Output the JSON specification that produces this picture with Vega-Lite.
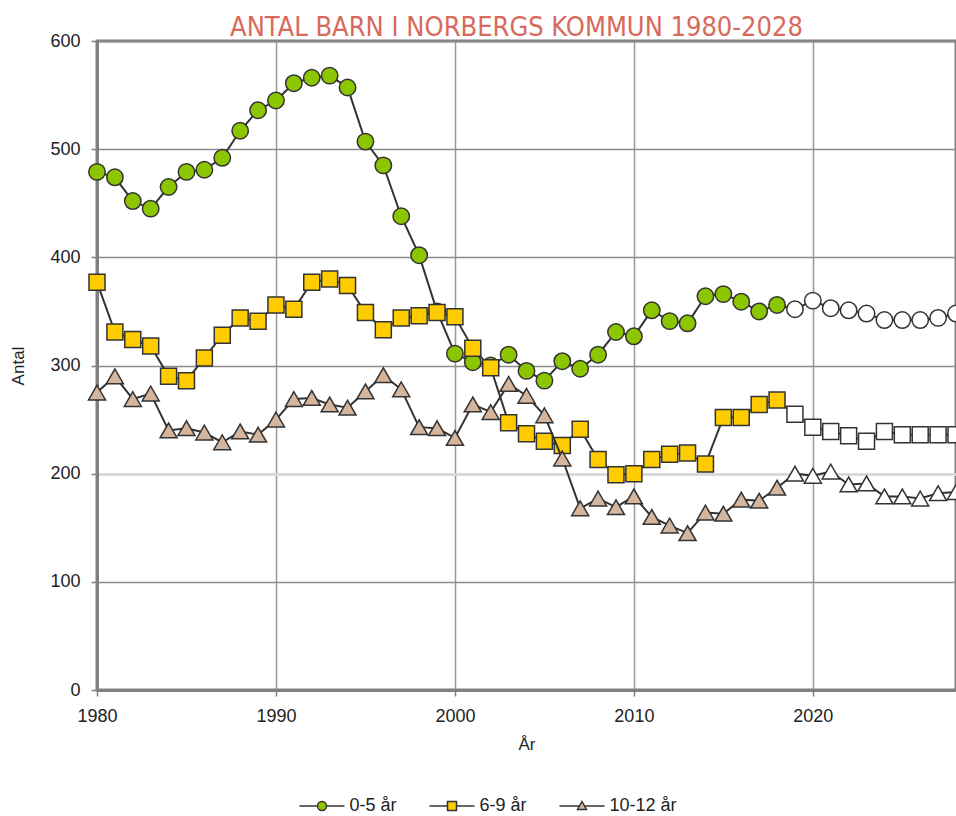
{
  "$schema": "https://vega.github.io/schema/vega-lite/v6.json",
  "width": 859,
  "height": 649,
  "autosize": {"type": "none"},
  "padding": {"left": 97, "top": 41, "right": 0, "bottom": 126},
  "background": "white",
  "title": {"text": "ANTAL BARN I NORBERGS KOMMUN 1980-2028", "font": "DejaVu Sans Condensed, Liberation Sans, sans-serif", "fontSize": 27, "fontWeight": "normal", "color": "#d86a5c", "offset": -10, "dx": -10},
  "config": {"view": {"stroke": "#808080", "strokeWidth": 3}, "font": "Liberation Sans"},
  "data": {"values": [
    {"year": 1980, "forecast": false, "0-5 år": 479, "6-9 år": 377, "10-12 år": 275},
    {"year": 1981, "forecast": false, "0-5 år": 474, "6-9 år": 331, "10-12 år": 290},
    {"year": 1982, "forecast": false, "0-5 år": 452, "6-9 år": 324, "10-12 år": 269},
    {"year": 1983, "forecast": false, "0-5 år": 445, "6-9 år": 318, "10-12 år": 274},
    {"year": 1984, "forecast": false, "0-5 år": 465, "6-9 år": 290, "10-12 år": 240},
    {"year": 1985, "forecast": false, "0-5 år": 479, "6-9 år": 286, "10-12 år": 242},
    {"year": 1986, "forecast": false, "0-5 år": 481, "6-9 år": 307, "10-12 år": 238},
    {"year": 1987, "forecast": false, "0-5 år": 492, "6-9 år": 328, "10-12 år": 229},
    {"year": 1988, "forecast": false, "0-5 år": 517, "6-9 år": 344, "10-12 år": 239},
    {"year": 1989, "forecast": false, "0-5 år": 536, "6-9 år": 341, "10-12 år": 236},
    {"year": 1990, "forecast": false, "0-5 år": 545, "6-9 år": 356, "10-12 år": 250},
    {"year": 1991, "forecast": false, "0-5 år": 561, "6-9 år": 352, "10-12 år": 269},
    {"year": 1992, "forecast": false, "0-5 år": 566, "6-9 år": 377, "10-12 år": 270},
    {"year": 1993, "forecast": false, "0-5 år": 568, "6-9 år": 380, "10-12 år": 264},
    {"year": 1994, "forecast": false, "0-5 år": 557, "6-9 år": 374, "10-12 år": 261},
    {"year": 1995, "forecast": false, "0-5 år": 507, "6-9 år": 349, "10-12 år": 276},
    {"year": 1996, "forecast": false, "0-5 år": 485, "6-9 år": 333, "10-12 år": 291},
    {"year": 1997, "forecast": false, "0-5 år": 438, "6-9 år": 344, "10-12 år": 278},
    {"year": 1998, "forecast": false, "0-5 år": 402, "6-9 år": 346, "10-12 år": 243},
    {"year": 1999, "forecast": false, "0-5 år": 350, "6-9 år": 349, "10-12 år": 242},
    {"year": 2000, "forecast": false, "0-5 år": 311, "6-9 år": 345, "10-12 år": 233},
    {"year": 2001, "forecast": false, "0-5 år": 303, "6-9 år": 316, "10-12 år": 264},
    {"year": 2002, "forecast": false, "0-5 år": 300, "6-9 år": 298, "10-12 år": 257},
    {"year": 2003, "forecast": false, "0-5 år": 310, "6-9 år": 247, "10-12 år": 283},
    {"year": 2004, "forecast": false, "0-5 år": 295, "6-9 år": 237, "10-12 år": 272},
    {"year": 2005, "forecast": false, "0-5 år": 286, "6-9 år": 230, "10-12 år": 254},
    {"year": 2006, "forecast": false, "0-5 år": 304, "6-9 år": 226, "10-12 år": 214},
    {"year": 2007, "forecast": false, "0-5 år": 297, "6-9 år": 241, "10-12 år": 168},
    {"year": 2008, "forecast": false, "0-5 år": 310, "6-9 år": 213, "10-12 år": 177},
    {"year": 2009, "forecast": false, "0-5 år": 331, "6-9 år": 199, "10-12 år": 169},
    {"year": 2010, "forecast": false, "0-5 år": 327, "6-9 år": 200, "10-12 år": 179},
    {"year": 2011, "forecast": false, "0-5 år": 351, "6-9 år": 213, "10-12 år": 160},
    {"year": 2012, "forecast": false, "0-5 år": 341, "6-9 år": 218, "10-12 år": 152},
    {"year": 2013, "forecast": false, "0-5 år": 339, "6-9 år": 219, "10-12 år": 145},
    {"year": 2014, "forecast": false, "0-5 år": 364, "6-9 år": 209, "10-12 år": 164},
    {"year": 2015, "forecast": false, "0-5 år": 366, "6-9 år": 252, "10-12 år": 163},
    {"year": 2016, "forecast": false, "0-5 år": 359, "6-9 år": 252, "10-12 år": 176},
    {"year": 2017, "forecast": false, "0-5 år": 350, "6-9 år": 264, "10-12 år": 175},
    {"year": 2018, "forecast": false, "0-5 år": 356, "6-9 år": 268, "10-12 år": 187},
    {"year": 2019, "forecast": true, "0-5 år": 352, "6-9 år": 255, "10-12 år": 200},
    {"year": 2020, "forecast": true, "0-5 år": 360, "6-9 år": 243, "10-12 år": 198},
    {"year": 2021, "forecast": true, "0-5 år": 353, "6-9 år": 239, "10-12 år": 202},
    {"year": 2022, "forecast": true, "0-5 år": 351, "6-9 år": 235, "10-12 år": 190},
    {"year": 2023, "forecast": true, "0-5 år": 348, "6-9 år": 230, "10-12 år": 191},
    {"year": 2024, "forecast": true, "0-5 år": 342, "6-9 år": 239, "10-12 år": 179},
    {"year": 2025, "forecast": true, "0-5 år": 342, "6-9 år": 236, "10-12 år": 179},
    {"year": 2026, "forecast": true, "0-5 år": 342, "6-9 år": 236, "10-12 år": 177},
    {"year": 2027, "forecast": true, "0-5 år": 344, "6-9 år": 236, "10-12 år": 182},
    {"year": 2028, "forecast": true, "0-5 år": 348, "6-9 år": 236, "10-12 år": 183}
  ]},
  "transform": [{"fold": ["0-5 år", "6-9 år", "10-12 år"], "as": ["series", "value"]}],
  "encoding": {
    "x": {"field": "year", "type": "quantitative",
      "scale": {"domain": [1980, 2028], "nice": false, "zero": false},
      "axis": {"values": [1980, 1990, 2000, 2010, 2020], "format": "d", "title": "År",
        "titleFontSize": 17, "titleFontWeight": "normal", "titleColor": "#222", "titlePadding": 11,
        "labelFontSize": 18, "labelColor": "#222", "labelPadding": 11, "labelFlush": false,
        "tickSize": 6, "tickColor": "#808080", "tickWidth": 1.5,
        "domainColor": "#808080", "domainWidth": 3,
        "gridColor": "#999999", "gridWidth": 1.5}},
    "y": {"field": "value", "type": "quantitative",
      "scale": {"domain": [0, 600], "nice": false},
      "axis": {"values": [0, 100, 200, 300, 400, 500, 600], "title": "Antal",
        "titleFontSize": 17, "titleFontWeight": "normal", "titleColor": "#222", "titlePadding": 22,
        "labelFontSize": 18, "labelColor": "#222", "labelPadding": 11,
        "tickSize": 6, "tickColor": "#808080", "tickWidth": 1.5,
        "domainColor": "#808080", "domainWidth": 3,
        "gridColor": {"condition": {"test": "datum.value === 200", "value": "#dadada"}, "value": "#8c8c8c"},
        "gridWidth": {"condition": {"test": "datum.value === 200", "value": 3}, "value": 1.5}}}
  },
  "layer": [
    {"transform": [{"filter": {"field": "series", "equal": "0-5 år"}}],
      "mark": {"type": "line", "color": "#333333", "strokeWidth": 2}, "encoding": {}},
    {"transform": [{"filter": {"field": "series", "equal": "0-5 år"}}],
      "mark": {"type": "point", "shape": "circle", "filled": true, "size": 270, "stroke": "#333333", "strokeWidth": 1.5, "opacity": 1},
      "encoding": {
        "fill": {"field": "series", "type": "nominal",
          "scale": {"domain": ["0-5 år", "6-9 år", "10-12 år"], "range": ["#8cc600", "#ffcc00", "#d4b59e"]},
          "condition": {"test": "datum.forecast", "value": "white"},
          "legend": {"title": null, "orient": "none", "legendX": 216, "legendY": 756, "direction": "horizontal",
            "labelFontSize": 18, "labelColor": "#222", "labelOffset": 18.5, "columnPadding": 29,
            "symbolSize": 81, "symbolStrokeColor": "#333333", "symbolStrokeWidth": 1.5, "padding": 0,
            "symbolType": {"expr": "datum.value === '0-5 år' ? 'M-5,0H-1M1,0H5M1,0A1,1,0,1,1,-1,0A1,1,0,1,1,1,0Z' : datum.value === '6-9 år' ? 'M-5,0H-1M1,0H5M-1,-1H1V1H-1Z' : 'M-5,0H-0.57M0.57,0H5M0,-1L1,0.75L-1,0.75Z'"},
            "encode": {"symbols": {"size": {"value": 81}, "stroke": {"value": "#333333"}, "strokeWidth": {"value": 1.5}}}}}
      }},
    {"transform": [{"filter": {"field": "series", "equal": "6-9 år"}}],
      "mark": {"type": "line", "color": "#333333", "strokeWidth": 2}, "encoding": {}},
    {"transform": [{"filter": {"field": "series", "equal": "6-9 år"}}],
      "mark": {"type": "point", "shape": "square", "filled": true, "size": 256, "stroke": "#333333", "strokeWidth": 1.5, "opacity": 1},
      "encoding": {
        "fill": {"field": "series", "type": "nominal",
          "scale": {"domain": ["0-5 år", "6-9 år", "10-12 år"], "range": ["#8cc600", "#ffcc00", "#d4b59e"]},
          "condition": {"test": "datum.forecast", "value": "white"}}
      }},
    {"transform": [{"filter": {"field": "series", "equal": "10-12 år"}}],
      "mark": {"type": "line", "color": "#333333", "strokeWidth": 2}, "encoding": {}},
    {"transform": [{"filter": {"field": "series", "equal": "10-12 år"}}],
      "mark": {"type": "point", "shape": "triangle-up", "filled": true, "size": 290, "stroke": "#333333", "strokeWidth": 1.5, "opacity": 1},
      "encoding": {
        "fill": {"field": "series", "type": "nominal",
          "scale": {"domain": ["0-5 år", "6-9 år", "10-12 år"], "range": ["#8cc600", "#ffcc00", "#d4b59e"]},
          "condition": {"test": "datum.forecast", "value": "white"}}
      }}
  ]
}
